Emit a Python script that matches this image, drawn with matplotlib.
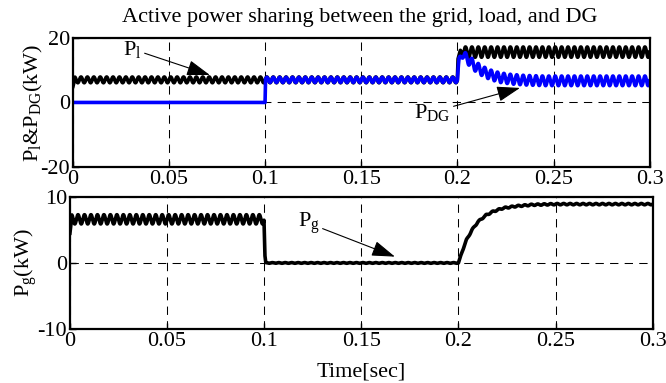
import numpy as np
import matplotlib
matplotlib.use("Agg")
import matplotlib.pyplot as plt

plt.rcParams['font.family'] = ['Liberation Serif', 'DejaVu Serif']
plt.rcParams['mathtext.fontset'] = 'custom'
plt.rcParams['mathtext.rm'] = 'Liberation Serif'
plt.rcParams['mathtext.it'] = 'Liberation Serif'
plt.rcParams['axes.unicode_minus'] = False

# ---------------- data ----------------
ripple_hz = 300.0                      # ripple frequency of the power signals

# load power P_l  (mean kW, ripple amplitude kW)
pl_t    = [0.0, 0.001, 0.1999, 0.2003, 0.2015, 0.203, 0.3]
pl_mean = [5.0, 7.0,   7.0,    13.5,   16.0,   15.6,  15.6]
pl_amp  = [0.0, 0.9,   0.9,    0.0,    0.5,    1.6,   1.6]

# DG power P_DG
pdg_t    = [0.0, 0.0999, 0.1001, 0.1999, 0.2008, 0.2025, 0.206, 0.209, 0.213, 0.217, 0.222, 0.228, 0.235, 0.245, 0.3]
pdg_mean = [0.0, 0.0,    7.0,    7.0,    13.5,   15.0,   13.0,  11.3,  9.7,   8.6,   7.7,   7.2,   6.9,   6.7,   6.7]
pdg_amp  = [0.0, 0.0,    0.8,    0.8,    0.3,    1.2,    1.5,   1.5,   1.5,   1.5,   1.5,   1.5,   1.5,   1.5,   1.5]

# grid power P_g
pg_t    = [0.0, 0.001, 0.0999, 0.1003, 0.1008, 0.2, 0.202, 0.204, 0.207, 0.21, 0.214, 0.218, 0.223, 0.23, 0.238, 0.25, 0.3]
pg_mean = [4.5, 6.6,   6.6,    1.3,    0.0,    0.0, 1.8,   3.4,   5.0,   6.2,  7.2,   7.8,   8.3,   8.6,  8.8,   8.9,  8.9]
pg_amp  = [0.0, 0.7,   0.7,    0.05,   0.05,   0.05, 0.1,  0.1,   0.1,   0.1,  0.1,   0.1,   0.1,   0.1,  0.1,   0.1,  0.1]

x_ticks = [0, 0.05, 0.1, 0.15, 0.2, 0.25, 0.3]
x_ticklabels = ['0', '0.05', '0.1', '0.15', '0.2', '0.25', '0.3']
top_yticks = [-20, 0, 20]
bot_yticks = [-10, 0, 10]

title = "Active power sharing between the grid, load, and DG"

# ---------------- build signals ----------------
t = np.linspace(0, 0.3, 9001)
ripple = np.sin(2 * np.pi * ripple_hz * t)

def signal(kt, km, ka):
    return np.interp(t, kt, km) + np.interp(t, kt, ka) * ripple

pl = signal(pl_t, pl_mean, pl_amp)
pdg = signal(pdg_t, pdg_mean, pdg_amp)
pg = signal(pg_t, pg_mean, pg_amp)

# ---------------- figure ----------------
fig = plt.figure(figsize=(6.66, 3.83), dpi=100)
ax1 = fig.add_axes([0.1096, 0.564, 0.866, 0.337])
ax2 = fig.add_axes([0.105, 0.141, 0.875, 0.345])

FS = 16
LW = 2.6

def style(ax, yt):
    ax.set_xlim(0, 0.3)
    ax.set_xticks(x_ticks)
    ax.set_xticklabels(x_ticklabels)
    ax.set_yticks(yt)
    ax.set_ylim(yt[0], yt[-1])
    ax.grid(True, color='black', linestyle=(0, (8, 6)), linewidth=0.75)
    ax.tick_params(direction='in', length=4, labelsize=FS, pad=2, width=1)
    for s in ax.spines.values():
        s.set_linewidth(1.6)

ax1.plot(t, pl, color='black', linewidth=LW)
ax1.plot(t, pdg, color='#0000ff', linewidth=LW)
style(ax1, top_yticks)
ax1.set_ylabel(r'P$_\mathrm{l}$&P$_\mathrm{DG}$(kW)', fontsize=FS, labelpad=-3)

ax2.plot(t, pg, color='black', linewidth=LW)
style(ax2, bot_yticks)
ax2.set_ylabel(r'P$_\mathrm{g}$(kW)', fontsize=FS, labelpad=-1)

arrow = dict(arrowstyle='-|>,head_length=0.9,head_width=0.3', color='black', lw=0.8,
             shrinkA=0, shrinkB=0)
ax1.annotate(r'P$_\mathrm{l}$', xy=(0.0712, 8.5), xytext=(0.031, 16.5),
             fontsize=FS, ha='center', va='center', arrowprops=arrow)
ax1.annotate(r'P$_\mathrm{DG}$', xy=(0.2325, 4.5), xytext=(0.187, -3.0),
             fontsize=FS, ha='center', va='center', arrowprops=arrow)
ax2.annotate(r'P$_\mathrm{g}$', xy=(0.1673, 0.95), xytext=(0.123, 6.0),
             fontsize=FS, ha='center', va='center', arrowprops=arrow)

fig.text(0.54, 0.955, title, fontsize=FS, ha='center', va='center')
fig.text(0.543, 0.029, 'Time[sec]', fontsize=FS, ha='center', va='center')

fig.savefig('out.png', dpi=100)
